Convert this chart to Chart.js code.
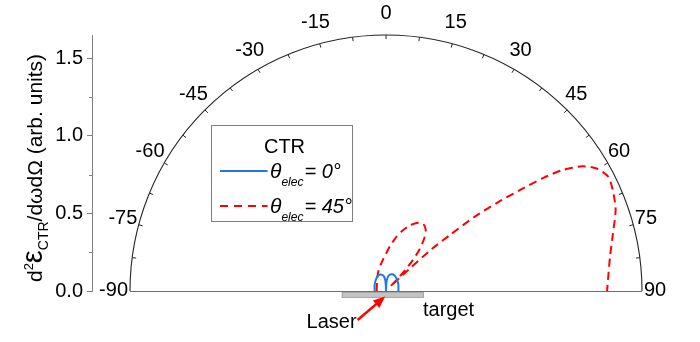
<!DOCTYPE html>
<html>
<head>
<meta charset="utf-8">
<script src="https://cdn.jsdelivr.net/npm/chart.js@4.4.1/dist/chart.umd.min.js"></script>
<style>
  html, body { margin: 0; padding: 0; background: #ffffff; }
  #wrap { width: 700px; height: 342px; }
</style>
</head>
<body>
<div id="wrap"><canvas id="c" width="700" height="342"></canvas></div>
<script>
// Emission angle (degrees) and CTR intensity for the two electron directions
const blueAngles = [-90, -62, -43, -29, -18, -9, -4, -1.5, 0, 1.5, 4, 9, 18, 29, 43, 62, 90];
const blueValues = [0.073, 0.083, 0.097, 0.110, 0.112, 0.098, 0.071, 0.032, 0, 0.030, 0.068, 0.098, 0.113, 0.114, 0.103, 0.090, 0.080];

const redAngles = [-90, -75, -60, -45, -30, -20, -12, -6, 0, 5, 10, 15, 20, 25, 29, 33, 36, 39, 41, 43, 44.5,
                   45.5, 46.5, 47.5, 48.8, 50, 51.6, 53, 54.3, 55.6, 57.6, 59.8, 62.7, 66, 70.5, 75.7, 81.4, 90];
const redValues = [0.060, 0.062, 0.068, 0.082, 0.110, 0.140, 0.170, 0.200, 0.240, 0.290, 0.345, 0.400, 0.450, 0.485, 0.495,
                   0.470, 0.420, 0.340, 0.260, 0.150, 0.040,
                   0.060, 0.200, 0.400, 0.550, 0.740, 0.920, 1.080, 1.250, 1.380, 1.500, 1.570, 1.610, 1.600, 1.570, 1.510, 1.460, 1.425];

// Axis labels
const angleTicks = [-90, -75, -60, -45, -30, -15, 0, 15, 30, 45, 60, 75, 90];
const yTicks = [0.0, 0.5, 1.0, 1.5];
const yMinorTicks = [0.25, 0.75, 1.25];
const radialMax = 1.65;
const legendTitle = 'CTR';
const seriesElec = ['0°', '45°'];

const FONT = '"Liberation Sans", Arial, Helvetica, sans-serif';
const BLUE = '#1f78e4';
const RED = '#ff0000';

function toXY(angles, values) {
  return angles.map((a, i) => {
    const t = a * Math.PI / 180;
    return { x: values[i] * Math.sin(t), y: values[i] * Math.cos(t) };
  });
}

// Semicircular angle frame, baseline, target and laser annotations
const polarFrame = {
  id: 'polarFrame',
  beforeDatasetsDraw(chart) {
    const { ctx, scales: { x, y } } = chart;
    const cx = x.getPixelForValue(0), cy = y.getPixelForValue(0);
    const R = cy - y.getPixelForValue(radialMax);
    ctx.save();
    // baseline
    ctx.strokeStyle = '#6e6e6e';
    ctx.lineWidth = 1.2;
    ctx.beginPath();
    ctx.moveTo(cx - R, cy + 0.5);
    ctx.lineTo(cx + R, cy + 0.5);
    ctx.stroke();
    // arc
    ctx.strokeStyle = '#262626';
    ctx.lineWidth = 1.1;
    ctx.beginPath();
    ctx.arc(cx, cy, R, Math.PI, 2 * Math.PI);
    ctx.stroke();
    // ticks every 7.5 degrees, pointing inward
    ctx.lineWidth = 1;
    for (let a = -82.5; a <= 82.5; a += 7.5) {
      const t = a * Math.PI / 180;
      const s = Math.sin(t), c = Math.cos(t);
      ctx.beginPath();
      ctx.moveTo(cx + R * s, cy - R * c);
      ctx.lineTo(cx + (R - 4) * s, cy - (R - 4) * c);
      ctx.stroke();
    }
    // angle labels
    ctx.fillStyle = '#000';
    ctx.font = '20px ' + FONT;
    ctx.textAlign = 'center';
    ctx.textBaseline = 'alphabetic';
    angleTicks.forEach(a => {
      const t = a * Math.PI / 180;
      const s = Math.sin(t), c = Math.cos(t);
      const txt = String(a);
      const hw = ctx.measureText(txt).width / 2;
      const px = cx + R * s + s * (hw + 2);
      const py = cy - R * c - c * 21.5 - 2;
      ctx.fillText(txt, px, py + 7.2);
    });
    ctx.restore();
  },
  afterDraw(chart) {
    const { ctx, scales: { x, y } } = chart;
    ctx.save();
    // target plate
    const tx0 = x.getPixelForValue(-0.285), tx1 = x.getPixelForValue(0.245);
    const ty0 = y.getPixelForValue(0), ty1 = y.getPixelForValue(-0.045);
    ctx.fillStyle = '#c4c4c4';
    ctx.fillRect(tx0, ty0 + 1, tx1 - tx0, ty1 - ty0 - 1);
    ctx.strokeStyle = '#a8a8a8';
    ctx.lineWidth = 1;
    ctx.strokeRect(tx0 + 0.5, ty0 + 1.5, tx1 - tx0 - 1, ty1 - ty0 - 2);
    // laser arrow
    const ax0 = x.getPixelForValue(-0.183), ay0 = y.getPixelForValue(-0.187);
    const ax1 = x.getPixelForValue(-0.005), ay1 = y.getPixelForValue(-0.035);
    const ang = Math.atan2(ay1 - ay0, ax1 - ax0);
    ctx.strokeStyle = RED;
    ctx.fillStyle = RED;
    ctx.lineWidth = 2.5;
    ctx.beginPath();
    ctx.moveTo(ax0, ay0);
    ctx.lineTo(ax1 - 8 * Math.cos(ang), ay1 - 8 * Math.sin(ang));
    ctx.stroke();
    ctx.beginPath();
    ctx.moveTo(ax1, ay1);
    ctx.lineTo(ax1 - 12 * Math.cos(ang) + 5 * Math.sin(ang), ay1 - 12 * Math.sin(ang) - 5 * Math.cos(ang));
    ctx.lineTo(ax1 - 12 * Math.cos(ang) - 5 * Math.sin(ang), ay1 - 12 * Math.sin(ang) + 5 * Math.cos(ang));
    ctx.closePath();
    ctx.fill();
    // labels under the baseline
    ctx.fillStyle = '#000';
    ctx.font = '20px ' + FONT;
    ctx.textBaseline = 'alphabetic';
    ctx.textAlign = 'right';
    ctx.fillText('Laser', ax0 - 1, ay0 + 8);
    ctx.textAlign = 'left';
    ctx.fillText('target', tx1 - 1, ty0 + 25);

    // legend box
    const lx = chart.chartArea.left + 119.5, ly = 125.5, lw = 141, lh = 96;
    ctx.strokeStyle = '#808080';
    ctx.lineWidth = 1;
    ctx.fillStyle = '#fff';
    ctx.fillRect(lx, ly, lw, lh);
    ctx.strokeRect(lx, ly, lw, lh);
    ctx.fillStyle = '#000';
    ctx.textAlign = 'center';
    ctx.font = '20px ' + FONT;
    ctx.fillText(legendTitle, lx + 73, ly + 27);
    const rows = [{ color: BLUE, dash: [], y: ly + 45.5 }, { color: RED, dash: [8, 6], y: ly + 80.5 }];
    rows.forEach((r, i) => {
      ctx.strokeStyle = r.color;
      ctx.lineWidth = 2;
      ctx.setLineDash(r.dash);
      ctx.beginPath();
      ctx.moveTo(lx + 8.5, r.y);
      ctx.lineTo(lx + 56, r.y);
      ctx.stroke();
      ctx.setLineDash([]);
      ctx.fillStyle = '#000';
      ctx.textAlign = 'left';
      let tx = lx + 58.5;
      const base = r.y + 7;
      ctx.font = 'italic 21px ' + FONT;
      ctx.fillText('θ', tx, base);
      tx += ctx.measureText('θ').width;
      ctx.font = 'italic 12px ' + FONT;
      ctx.fillText('elec', tx, base + 8);
      tx += ctx.measureText('elec').width + 1;
      ctx.font = 'italic 20px ' + FONT;
      ctx.fillText('= ' + seriesElec[i], tx, base);
    });

    // rotated y-axis title
    ctx.translate(42, 168);
    ctx.rotate(-Math.PI / 2);
    const parts = [
      { t: 'd', f: '21px ', dy: 0 },
      { t: '2', f: '13px ', dy: -9 },
      { t: 'ε', f: '29px ', dy: 0 },
      { t: 'CTR', f: '14px ', dy: 6 },
      { t: '/dωdΩ (arb. units)', f: '21px ', dy: 0 }
    ];
    let total = 0;
    parts.forEach(p => { ctx.font = p.f + FONT; p.w = ctx.measureText(p.t).width; total += p.w; });
    let u = -total / 2;
    ctx.textAlign = 'left';
    parts.forEach(p => {
      ctx.font = p.f + FONT;
      ctx.fillText(p.t, u, p.dy);
      u += p.w;
    });
    ctx.restore();
  },
  afterDatasetsDraw(chart) {
    // minor ticks on the left axis
    const { ctx, scales: { y } } = chart;
    const left = chart.chartArea.left;
    ctx.save();
    ctx.strokeStyle = '#808080';
    ctx.lineWidth = 1;
    yMinorTicks.forEach(v => {
      const py = Math.round(y.getPixelForValue(v)) + 0.5;
      ctx.beginPath();
      ctx.moveTo(left - 3, py);
      ctx.lineTo(left, py);
      ctx.stroke();
    });
    ctx.restore();
  }
};

new Chart(document.getElementById('c'), {
  type: 'scatter',
  data: {
    datasets: [
      {
        label: 'θelec = 0°',
        data: toXY(blueAngles, blueValues),
        showLine: true,
        borderColor: BLUE,
        borderWidth: 2,
        pointRadius: 0,
        tension: 0.25
      },
      {
        label: 'θelec = 45°',
        data: toXY(redAngles, redValues),
        showLine: true,
        borderColor: RED,
        borderWidth: 2,
        borderDash: [8, 5],
        pointRadius: 0,
        tension: 0.25
      }
    ]
  },
  options: {
    responsive: false,
    devicePixelRatio: 1,
    animation: false,
    layout: { padding: { left: 0, right: 20, top: 35, bottom: 51 } },
    plugins: { legend: { display: false }, tooltip: { enabled: false } },
    scales: {
      x: { type: 'linear', display: false, min: -1.895, max: 1.895 },
      y: {
        type: 'linear',
        min: 0,
        max: radialMax,
        afterFit(s) { s.width = 92; },
        afterBuildTicks(s) { s.ticks = yTicks.map(v => ({ value: v })); },
        ticks: {
          color: '#000',
          padding: 4,
          font: { family: FONT, size: 20 },
          callback: v => Number(v).toFixed(1)
        },
        grid: { drawOnChartArea: false, tickLength: 5, tickColor: '#808080' },
        border: { color: '#808080', width: 1 }
      }
    }
  },
  plugins: [polarFrame]
});
</script>
</body>
</html>
